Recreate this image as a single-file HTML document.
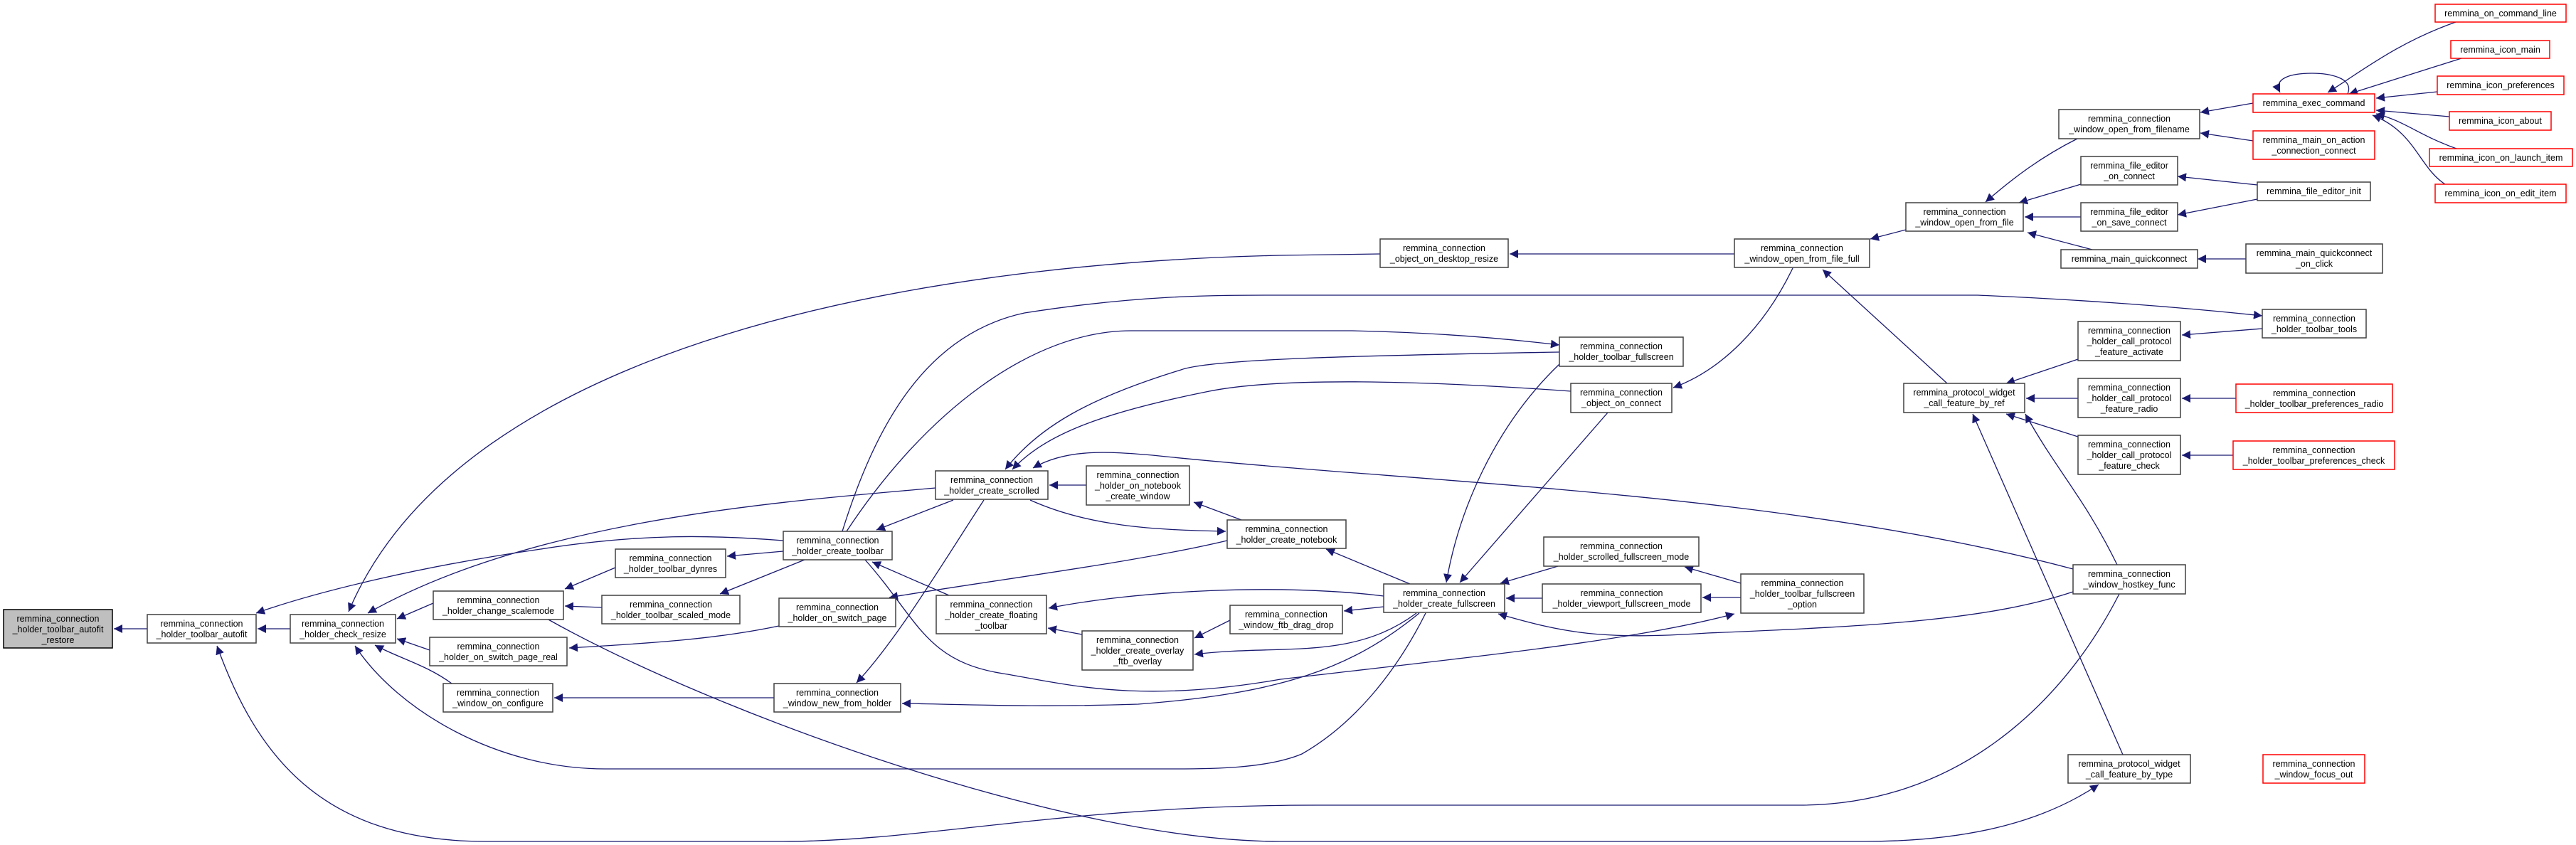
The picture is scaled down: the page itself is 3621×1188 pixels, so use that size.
<!DOCTYPE html>
<html><head><meta charset="utf-8"><style>
html,body{margin:0;padding:0;background:#fff;}
svg{display:block;}
text{font-family:"Liberation Sans",sans-serif;font-size:12.5px;fill:#000;}
.n{fill:#fff;stroke:#404040;stroke-width:1.5;}
.r{fill:#fff;stroke:#ff0000;stroke-width:1.5;}
.g{fill:#bfbfbf;stroke:#000;stroke-width:1.5;}
.e{fill:none;stroke:#191970;stroke-width:1.3;marker-end:url(#a);}
</style></head><body>
<svg width="3621" height="1188" viewBox="0 0 3621 1188" xmlns="http://www.w3.org/2000/svg">
<defs><marker id="a" markerUnits="userSpaceOnUse" markerWidth="14" markerHeight="12" refX="12" refY="6" orient="auto"><path d="M0,0 L12,6 L0,12 z" fill="#191970"/></marker></defs>
<g>
<path class="e" d="M207,884 L160,884"/>
<path class="e" d="M408,884 L362,884"/>
<path class="e" d="M609,848 L558,870"/>
<path class="e" d="M604,914 L558,898"/>
<path class="e" d="M635,961 C600,935 560,925 527,907"/>
<path class="e" d="M2004,862 C1960,950 1900,1020 1830,1060 C1780,1081 1700,1081 1650,1081 L850,1081 C700,1081 560,1000 499,908"/>
<path class="e" d="M1940,357 L1800,359 C1300,370 650,480 490,860"/>
<path class="e" d="M1315,686 C1100,705 750,730 517,862"/>
<path class="e" d="M1101,760 C1000,752 900,750 760,772 C600,795 450,830 360,862"/>
<path class="e" d="M2979,835 C2900,990 2750,1132 2530,1132 L1850,1132 C1500,1132 1300,1183 1100,1183 L683,1183 C450,1183 360,1060 305,908"/>
<path class="e" d="M769,870 C1000,1000 1500,1183 1800,1183 L2620,1183 C2780,1183 2880,1150 2950,1103"/>
<path class="e" d="M1095,880 C1000,900 900,905 800,911"/>
<path class="e" d="M1725,760 C1600,790 1400,815 1250,840"/>
<path class="e" d="M1101,775 L1022,782"/>
<path class="e" d="M1131,787 L1012,835"/>
<path class="e" d="M865,798 L794,828"/>
<path class="e" d="M846,854 L794,852"/>
<path class="e" d="M1340,703 L1232,745"/>
<path class="e" d="M1334,837 L1226,790"/>
<path class="e" d="M1527,682 L1475,682"/>
<path class="e" d="M1448,703 C1530,740 1620,745 1723,747"/>
<path class="e" d="M1745,731 L1678,706"/>
<path class="e" d="M2192,495 C1900,500 1700,505 1660,520 C1530,560 1460,600 1413,660"/>
<path class="e" d="M2208,550 C2000,535 1800,530 1700,550 C1550,580 1470,610 1423,660"/>
<path class="e" d="M2914,800 C2500,690 2000,680 1620,640 C1560,635 1500,630 1452,658"/>
<path class="e" d="M1184,747 C1230,600 1300,470 1440,440 C1600,415 1700,415 1800,415 L2780,415 C2900,420 3050,430 3180,444"/>
<path class="e" d="M1190,747 C1300,580 1450,465 1590,465 L1900,465 C2000,467 2100,474 2192,485"/>
<path class="e" d="M2192,512 C2100,600 2050,720 2033,819"/>
<path class="e" d="M2260,580 L2052,819"/>
<path class="e" d="M2520,377 C2480,460 2420,520 2352,545"/>
<path class="e" d="M2737,539 L2562,379"/>
<path class="e" d="M2438,357 L2122,357"/>
<path class="e" d="M2679,323 L2629,336"/>
<path class="e" d="M2920,195 C2870,220 2830,250 2791,284"/>
<path class="e" d="M2925,259 L2838,285"/>
<path class="e" d="M2925,305 L2846,305"/>
<path class="e" d="M2941,351 L2850,327"/>
<path class="e" d="M3167,145 L3093,158"/>
<path class="e" d="M3167,198 L3093,187"/>
<path class="e" d="M3173,260 L3061,248"/>
<path class="e" d="M3173,280 L3061,302"/>
<path class="e" d="M3157,364 L3089,364"/>
<path class="e" d="M3452,31 C3370,60 3320,100 3272,130"/>
<path class="e" d="M3300,132 C3310,108 3270,103 3250,103 C3220,103 3195,110 3205,130"/>
<path class="e" d="M3460,82 L3302,132"/>
<path class="e" d="M3426,129 L3340,138"/>
<path class="e" d="M3443,164 L3340,155"/>
<path class="e" d="M3453,209 C3400,190 3380,170 3340,160"/>
<path class="e" d="M3437,259 C3400,235 3395,185 3335,162"/>
<path class="e" d="M2921,505 L2820,539"/>
<path class="e" d="M2921,560 L2848,560"/>
<path class="e" d="M2921,614 L2820,582"/>
<path class="e" d="M3180,462 L3067,471"/>
<path class="e" d="M3143,560 L3067,560"/>
<path class="e" d="M3139,640 L3067,640"/>
<path class="e" d="M2984,1061 L2773,582"/>
<path class="e" d="M2976,794 C2930,700 2890,660 2847,582"/>
<path class="e" d="M2914,832 C2800,870 2650,880 2400,890 C2250,900 2200,890 2106,863"/>
<path class="e" d="M2190,796 L2109,820"/>
<path class="e" d="M2168,841 L2117,841"/>
<path class="e" d="M2447,820 L2368,797"/>
<path class="e" d="M2447,840 L2393,840"/>
<path class="e" d="M1982,821 L1864,772"/>
<path class="e" d="M1945,853 L1889,859"/>
<path class="e" d="M1945,838 C1800,820 1600,830 1474,855"/>
<path class="e" d="M1729,872 L1679,897"/>
<path class="e" d="M1991,862 C1900,930 1800,905 1679,920"/>
<path class="e" d="M1521,892 L1473,883"/>
<path class="e" d="M1995,862 C1900,940 1800,975 1600,990 C1450,995 1350,990 1268,989"/>
<path class="e" d="M1383,703 C1320,800 1260,900 1204,960"/>
<path class="e" d="M1088,981 L779,981"/>
<path class="e" d="M1216,787 C1290,870 1300,930 1410,947 C1500,962 1600,990 1800,955 C2100,920 2300,900 2438,863"/>
</g>
<g>
<rect class="g" x="5" y="857" width="153" height="54"/><text x="81.5" y="874" text-anchor="middle">remmina_connection</text><text x="81.5" y="889" text-anchor="middle">_holder_toolbar_autofit</text><text x="81.5" y="904" text-anchor="middle">_restore</text>
<rect class="n" x="207" y="864" width="153" height="40"/><text x="283.5" y="881" text-anchor="middle">remmina_connection</text><text x="283.5" y="896" text-anchor="middle">_holder_toolbar_autofit</text>
<rect class="n" x="408" y="864" width="148" height="40"/><text x="482" y="881" text-anchor="middle">remmina_connection</text><text x="482" y="896" text-anchor="middle">_holder_check_resize</text>
<rect class="n" x="609" y="831" width="183" height="40"/><text x="700.5" y="848" text-anchor="middle">remmina_connection</text><text x="700.5" y="863" text-anchor="middle">_holder_change_scalemode</text>
<rect class="n" x="604" y="896" width="193" height="40"/><text x="700.5" y="913" text-anchor="middle">remmina_connection</text><text x="700.5" y="928" text-anchor="middle">_holder_on_switch_page_real</text>
<rect class="n" x="865" y="772" width="155" height="40"/><text x="942.5" y="789" text-anchor="middle">remmina_connection</text><text x="942.5" y="804" text-anchor="middle">_holder_toolbar_dynres</text>
<rect class="n" x="846" y="837" width="194" height="40"/><text x="943" y="854" text-anchor="middle">remmina_connection</text><text x="943" y="869" text-anchor="middle">_holder_toolbar_scaled_mode</text>
<rect class="n" x="623" y="961" width="154" height="40"/><text x="700" y="978" text-anchor="middle">remmina_connection</text><text x="700" y="993" text-anchor="middle">_window_on_configure</text>
<rect class="n" x="1101" y="747" width="153" height="40"/><text x="1177.5" y="764" text-anchor="middle">remmina_connection</text><text x="1177.5" y="779" text-anchor="middle">_holder_create_toolbar</text>
<rect class="n" x="1095" y="841" width="164" height="40"/><text x="1177" y="858" text-anchor="middle">remmina_connection</text><text x="1177" y="873" text-anchor="middle">_holder_on_switch_page</text>
<rect class="n" x="1315" y="662" width="158" height="40"/><text x="1394" y="679" text-anchor="middle">remmina_connection</text><text x="1394" y="694" text-anchor="middle">_holder_create_scrolled</text>
<rect class="n" x="1527" y="655" width="145" height="55"/><text x="1599.5" y="672" text-anchor="middle">remmina_connection</text><text x="1599.5" y="687" text-anchor="middle">_holder_on_notebook</text><text x="1599.5" y="702" text-anchor="middle">_create_window</text>
<rect class="n" x="1316" y="837" width="155" height="54"/><text x="1393.5" y="854" text-anchor="middle">remmina_connection</text><text x="1393.5" y="869" text-anchor="middle">_holder_create_floating</text><text x="1393.5" y="884" text-anchor="middle">_toolbar</text>
<rect class="n" x="1088" y="961" width="178" height="40"/><text x="1177" y="978" text-anchor="middle">remmina_connection</text><text x="1177" y="993" text-anchor="middle">_window_new_from_holder</text>
<rect class="n" x="1725" y="731" width="167" height="40"/><text x="1808.5" y="748" text-anchor="middle">remmina_connection</text><text x="1808.5" y="763" text-anchor="middle">_holder_create_notebook</text>
<rect class="n" x="1521" y="887" width="156" height="55"/><text x="1599" y="904" text-anchor="middle">remmina_connection</text><text x="1599" y="919" text-anchor="middle">_holder_create_overlay</text><text x="1599" y="934" text-anchor="middle">_ftb_overlay</text>
<rect class="n" x="1729" y="851" width="158" height="40"/><text x="1808" y="868" text-anchor="middle">remmina_connection</text><text x="1808" y="883" text-anchor="middle">_window_ftb_drag_drop</text>
<rect class="n" x="1940" y="336" width="180" height="40"/><text x="2030" y="353" text-anchor="middle">remmina_connection</text><text x="2030" y="368" text-anchor="middle">_object_on_desktop_resize</text>
<rect class="n" x="2192" y="474" width="174" height="41"/><text x="2279" y="491" text-anchor="middle">remmina_connection</text><text x="2279" y="506" text-anchor="middle">_holder_toolbar_fullscreen</text>
<rect class="n" x="2208" y="539" width="142" height="41"/><text x="2279" y="556" text-anchor="middle">remmina_connection</text><text x="2279" y="571" text-anchor="middle">_object_on_connect</text>
<rect class="n" x="1945" y="821" width="170" height="40"/><text x="2030" y="838" text-anchor="middle">remmina_connection</text><text x="2030" y="853" text-anchor="middle">_holder_create_fullscreen</text>
<rect class="n" x="2170" y="755" width="218" height="41"/><text x="2279" y="772" text-anchor="middle">remmina_connection</text><text x="2279" y="787" text-anchor="middle">_holder_scrolled_fullscreen_mode</text>
<rect class="n" x="2168" y="821" width="223" height="40"/><text x="2279.5" y="838" text-anchor="middle">remmina_connection</text><text x="2279.5" y="853" text-anchor="middle">_holder_viewport_fullscreen_mode</text>
<rect class="n" x="2447" y="807" width="173" height="55"/><text x="2533.5" y="824" text-anchor="middle">remmina_connection</text><text x="2533.5" y="839" text-anchor="middle">_holder_toolbar_fullscreen</text><text x="2533.5" y="854" text-anchor="middle">_option</text>
<rect class="n" x="2438" y="336" width="190" height="40"/><text x="2533" y="353" text-anchor="middle">remmina_connection</text><text x="2533" y="368" text-anchor="middle">_window_open_from_file_full</text>
<rect class="n" x="2679" y="285" width="165" height="40"/><text x="2761.5" y="302" text-anchor="middle">remmina_connection</text><text x="2761.5" y="317" text-anchor="middle">_window_open_from_file</text>
<rect class="n" x="2676" y="539" width="170" height="41"/><text x="2761" y="556" text-anchor="middle">remmina_protocol_widget</text><text x="2761" y="571" text-anchor="middle">_call_feature_by_ref</text>
<rect class="n" x="2914" y="794" width="158" height="41"/><text x="2993" y="811" text-anchor="middle">remmina_connection</text><text x="2993" y="826" text-anchor="middle">_window_hostkey_func</text>
<rect class="n" x="2907" y="1061" width="172" height="40"/><text x="2993" y="1078" text-anchor="middle">remmina_protocol_widget</text><text x="2993" y="1093" text-anchor="middle">_call_feature_by_type</text>
<rect class="n" x="2894" y="154" width="198" height="41"/><text x="2993" y="171" text-anchor="middle">remmina_connection</text><text x="2993" y="186" text-anchor="middle">_window_open_from_filename</text>
<rect class="n" x="2925" y="220" width="136" height="40"/><text x="2993" y="237" text-anchor="middle">remmina_file_editor</text><text x="2993" y="252" text-anchor="middle">_on_connect</text>
<rect class="n" x="2925" y="285" width="136" height="40"/><text x="2993" y="302" text-anchor="middle">remmina_file_editor</text><text x="2993" y="317" text-anchor="middle">_on_save_connect</text>
<rect class="n" x="2897" y="351" width="192" height="26"/><text x="2993" y="368" text-anchor="middle">remmina_main_quickconnect</text>
<rect class="n" x="2921" y="452" width="144" height="55"/><text x="2993" y="469" text-anchor="middle">remmina_connection</text><text x="2993" y="484" text-anchor="middle">_holder_call_protocol</text><text x="2993" y="499" text-anchor="middle">_feature_activate</text>
<rect class="n" x="2921" y="532" width="144" height="55"/><text x="2993" y="549" text-anchor="middle">remmina_connection</text><text x="2993" y="564" text-anchor="middle">_holder_call_protocol</text><text x="2993" y="579" text-anchor="middle">_feature_radio</text>
<rect class="n" x="2921" y="612" width="144" height="55"/><text x="2993" y="629" text-anchor="middle">remmina_connection</text><text x="2993" y="644" text-anchor="middle">_holder_call_protocol</text><text x="2993" y="659" text-anchor="middle">_feature_check</text>
<rect class="r" x="3167" y="132" width="171" height="26"/><text x="3252.5" y="149" text-anchor="middle">remmina_exec_command</text>
<rect class="r" x="3167" y="184" width="171" height="40"/><text x="3252.5" y="201" text-anchor="middle">remmina_main_on_action</text><text x="3252.5" y="216" text-anchor="middle">_connection_connect</text>
<rect class="n" x="3173" y="256" width="159" height="26"/><text x="3252.5" y="273" text-anchor="middle">remmina_file_editor_init</text>
<rect class="n" x="3157" y="343" width="192" height="41"/><text x="3253" y="360" text-anchor="middle">remmina_main_quickconnect</text><text x="3253" y="375" text-anchor="middle">_on_click</text>
<rect class="n" x="3180" y="435" width="146" height="40"/><text x="3253" y="452" text-anchor="middle">remmina_connection</text><text x="3253" y="467" text-anchor="middle">_holder_toolbar_tools</text>
<rect class="r" x="3143" y="540" width="220" height="40"/><text x="3253" y="557" text-anchor="middle">remmina_connection</text><text x="3253" y="572" text-anchor="middle">_holder_toolbar_preferences_radio</text>
<rect class="r" x="3139" y="620" width="227" height="40"/><text x="3252.5" y="637" text-anchor="middle">remmina_connection</text><text x="3252.5" y="652" text-anchor="middle">_holder_toolbar_preferences_check</text>
<rect class="r" x="3181" y="1061" width="143" height="40"/><text x="3252.5" y="1078" text-anchor="middle">remmina_connection</text><text x="3252.5" y="1093" text-anchor="middle">_window_focus_out</text>
<rect class="r" x="3423" y="6" width="184" height="25"/><text x="3515" y="23" text-anchor="middle">remmina_on_command_line</text>
<rect class="r" x="3445" y="57" width="139" height="25"/><text x="3514.5" y="74" text-anchor="middle">remmina_icon_main</text>
<rect class="r" x="3426" y="107" width="178" height="26"/><text x="3515" y="124" text-anchor="middle">remmina_icon_preferences</text>
<rect class="r" x="3443" y="157" width="143" height="26"/><text x="3514.5" y="174" text-anchor="middle">remmina_icon_about</text>
<rect class="r" x="3415" y="209" width="201" height="25"/><text x="3515.5" y="226" text-anchor="middle">remmina_icon_on_launch_item</text>
<rect class="r" x="3423" y="259" width="184" height="26"/><text x="3515" y="276" text-anchor="middle">remmina_icon_on_edit_item</text>
</g>
</svg>
</body></html>
